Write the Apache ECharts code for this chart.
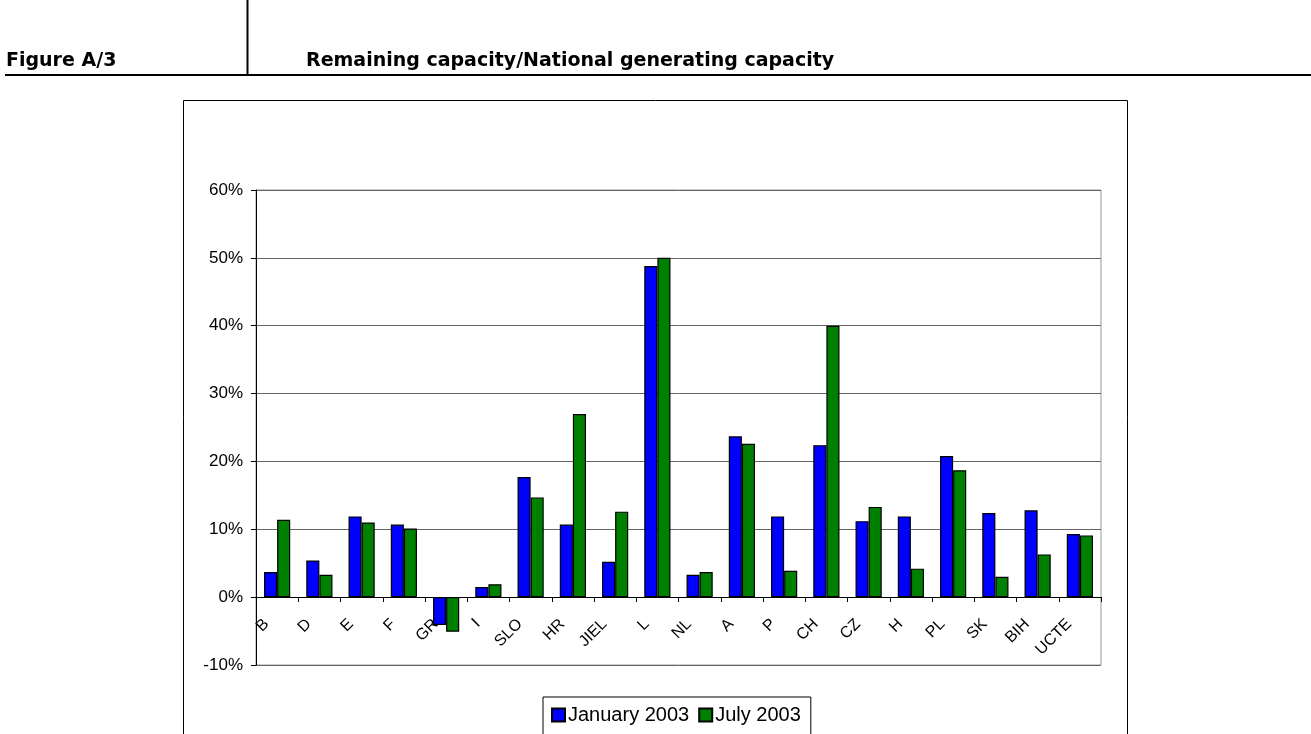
<!DOCTYPE html>
<html>
<head>
<meta charset="utf-8">
<script src="https://cdn.jsdelivr.net/npm/echarts@6/dist/echarts.min.js"></script>
<style>
  html, body { margin: 0; padding: 0; background: #fff; }
  #chart { width: 1311px; height: 734px; }
</style>
</head>
<body>
<div id="chart"></div>
<script>
// 국가 코드 (x축 카테고리)
const countries = ["B", "D", "E", "F", "GR", "I", "SLO", "HR", "JIEL", "L",
  "NL", "A", "P", "CH", "CZ", "H", "PL", "SK", "BIH", "UCTE"];

// 잔여 용량 / 국가 발전 용량 (%)
const january2003 = [3.7, 5.4, 11.9, 10.7, -4.1, 1.5, 17.7, 10.7, 5.2, 48.8,
  3.3, 23.7, 11.9, 22.4, 11.2, 11.9, 20.8, 12.4, 12.8, 9.3];
const july2003 = [11.4, 3.3, 11.0, 10.1, -5.1, 1.9, 14.7, 27.0, 12.6, 50.0,
  3.7, 22.6, 3.9, 40.0, 13.3, 4.2, 18.7, 3.0, 6.3, 9.1];

const seriesNames = ["January 2003", "July 2003"];
const yTicks = { min: -10, max: 60, step: 10 };

const chart = echarts.init(document.getElementById("chart"));

const barSeries = (name, data, color) => ({
  name,
  type: "bar",
  data,
  barGap: "0%",
  barCategoryGap: "38%",
  itemStyle: { color, borderColor: "#000", borderWidth: 1.2 },
});

chart.setOption({
  animation: false,
  backgroundColor: "#fff",
  textStyle: { fontFamily: "Liberation Sans, Arial, sans-serif" },
  graphic: [
    // 헤더 영역
    { type: "text", left: 6, top: 52, style: { text: "Figure A/3", font: "bold 19px DejaVu Sans", fill: "#000" } },
    { type: "text", left: 306, top: 52, style: { text: "Remaining capacity/National generating capacity", font: "bold 19px DejaVu Sans", fill: "#000" } },
    { type: "line", shape: { x1: 247.5, y1: 0, x2: 247.5, y2: 74 }, style: { stroke: "#000", lineWidth: 2 } },
    { type: "line", shape: { x1: 5, y1: 75, x2: 1311, y2: 75 }, style: { stroke: "#000", lineWidth: 2 } },
    // 차트 외곽 박스
    { type: "rect", shape: { x: 183.5, y: 100.5, width: 944, height: 660 }, style: { fill: "none", stroke: "#000", lineWidth: 1 }, z: -1 },
  ],
  legend: {
    data: seriesNames,
    left: 543,
    top: 697,
    orient: "horizontal",
    itemWidth: 13,
    itemHeight: 13,
    itemGap: 9,
    padding: [8, 10, 22, 8],
    borderColor: "#000",
    borderWidth: 1,
    icon: "rect",
    textStyle: { fontSize: 20, color: "#000", fontFamily: "Liberation Sans, Arial, sans-serif", padding: [0, 0, 0, -2] },
  },
  grid: {
    left: 256,
    right: 210,
    top: 190,
    bottom: 69,
    show: true,
    borderColor: "#999",
    borderWidth: 1,
  },
  xAxis: {
    type: "category",
    data: countries,
    offset: -68,
    axisLine: { onZero: false, lineStyle: { color: "#000", width: 1 } },
    axisTick: { show: true, length: 5, lineStyle: { color: "#000" } },
    axisLabel: { interval: 0, rotate: 45, margin: 14, fontSize: 16, color: "#000", padding: [0, 15, 0, 0] },
    splitLine: { show: false },
  },
  yAxis: {
    type: "value",
    min: yTicks.min,
    max: yTicks.max,
    interval: yTicks.step,
    axisLine: { show: true, lineStyle: { color: "#000", width: 1 } },
    axisTick: { show: true, length: 5, lineStyle: { color: "#000" } },
    axisLabel: { formatter: "{value}%", fontSize: 17, color: "#000", margin: 13 },
    splitLine: { show: true, lineStyle: { color: "#666", width: 1 } },
  },
  series: [
    barSeries(seriesNames[0], january2003, "#0000FF"),
    barSeries(seriesNames[1], july2003, "#008000"),
  ],
});
</script>
</body>
</html>
